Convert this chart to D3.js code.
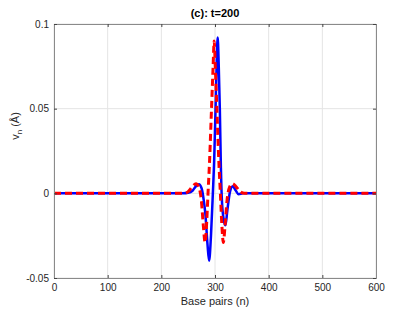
<!DOCTYPE html>
<html>
<head>
<meta charset="utf-8">
<script src="https://cdn.jsdelivr.net/npm/d3@7"></script>
<style>
  body { margin: 0; background: #fff; }
  text { font-family: "Liberation Sans", Arial, sans-serif; }
</style>
</head>
<body>
<svg id="chart" width="415" height="312"></svg>
<script>
// datos
var xTicks = [0, 100, 200, 300, 400, 500, 600];
var yTicks = [-0.05, 0, 0.05, 0.1];
var yTickLabels = ["-0.05", "0", "0.05", "0.1"];

// serie azul (linea continua)
var azulN = [0, 240, 250, 258, 264, 270, 275, 279, 282, 286, 289, 292.5, 296, 298.5, 301, 303, 305, 307, 309, 311, 313, 316.5, 319.5, 323, 328, 333, 338, 344, 352, 600];
var azulV = [0, 0, 0.0003, 0.0015, 0.004, 0.0053, 0.003, -0.004, -0.012, -0.03, -0.0398, -0.025, 0, 0.02, 0.05, 0.075, 0.092, 0.075, 0.05, 0.015, -0.005, -0.016, -0.0188, -0.01, 0.001, 0.0042, 0.002, -0.0005, 0, 0];

// serie roja (linea discontinua)
var rojoN = [0, 242, 250, 258, 264.5, 269.5, 274.5, 278.5, 281.5, 284, 287, 290, 293.5, 296.5, 298.5, 300.5, 303.5, 307, 310, 313, 315.5, 318.5, 322.5, 327.5, 332.5, 339, 347, 355, 600];
var rojoV = [0, 0, 0.001, 0.004, 0.0057, 0.004, -0.004, -0.02, -0.029, -0.02, 0, 0.02, 0.05, 0.075, 0.090, 0.075, 0.05, 0.02, 0, -0.02, -0.029, -0.02, -0.004, 0.004, 0.0057, 0.004, 0.001, 0, 0];

var svg = d3.select("#chart");
var mIzq = 54, mDer = 376, mArriba = 24, mAbajo = 278;

var x = d3.scaleLinear().domain([0, 600]).range([mIzq, mDer]);
var y = d3.scaleLinear().domain([-0.05, 0.1]).range([mAbajo, mArriba]);

// rejilla
svg.append("g").selectAll("line").data(xTicks).enter().append("line")
  .attr("x1", function(d){ return x(d); }).attr("x2", function(d){ return x(d); })
  .attr("y1", mArriba).attr("y2", mAbajo)
  .attr("stroke", "#e4e4e4").attr("stroke-width", 1);
svg.append("g").selectAll("line").data(yTicks).enter().append("line")
  .attr("x1", mIzq).attr("x2", mDer)
  .attr("y1", function(d){ return y(d); }).attr("y2", function(d){ return y(d); })
  .attr("stroke", "#e4e4e4").attr("stroke-width", 1);

// curvas
var linea = d3.line().curve(d3.curveMonotoneX);

var azul = azulN.map(function(n, i){ return [x(n), y(azulV[i])]; });
var rojo = rojoN.map(function(n, i){ return [x(n), y(rojoV[i])]; });

svg.append("path").attr("d", linea(azul))
  .attr("fill", "none").attr("stroke", "#0000ff").attr("stroke-width", 2.5);
svg.append("path").attr("d", linea(rojo))
  .attr("fill", "none").attr("stroke", "#ff0000").attr("stroke-width", 3)
  .attr("stroke-dasharray", "7,4");

// ejes
var ejeX = d3.axisBottom(x).tickValues(xTicks).tickSize(-3).tickPadding(6);
var gx = svg.append("g").attr("transform", "translate(0," + mAbajo + ")").call(ejeX);
var ejeXtop = d3.axisTop(x).tickValues(xTicks).tickSize(-3).tickFormat("");
var gxt = svg.append("g").attr("transform", "translate(0," + mArriba + ")").call(ejeXtop);
var ejeY = d3.axisLeft(y).tickValues(yTicks).tickSize(-3).tickPadding(5)
  .tickFormat(function(d, i){ return yTickLabels[i]; });
var gy = svg.append("g").attr("transform", "translate(" + mIzq + ",0)").call(ejeY);
var ejeYr = d3.axisRight(y).tickValues(yTicks).tickSize(-3).tickFormat("");
var gyr = svg.append("g").attr("transform", "translate(" + mDer + ",0)").call(ejeYr);

[gx, gxt, gy, gyr].forEach(function(g){
  g.select(".domain").attr("stroke", "#8a8a8a").attr("stroke-width", 1);
  g.selectAll(".tick line").attr("stroke", "#444");
  g.selectAll("text").attr("fill", "#262626").attr("font-size", "10px")
    .attr("font-family", "Liberation Sans, Arial, sans-serif");
});

// titulo y etiquetas
svg.append("text")
  .attr("x", (mIzq + mDer) / 2).attr("y", 17)
  .attr("text-anchor", "middle")
  .attr("font-size", "11px").attr("font-weight", "bold").attr("fill", "#000")
  .text("(c): t=200");

svg.append("text")
  .attr("x", (mIzq + mDer) / 2).attr("y", 305)
  .attr("text-anchor", "middle")
  .attr("font-size", "11px").attr("fill", "#262626")
  .text("Base pairs (n)");

var yl = svg.append("text")
  .attr("transform", "translate(19,126) rotate(-90)")
  .attr("text-anchor", "middle")
  .attr("font-size", "11px").attr("fill", "#262626");
yl.append("tspan").text("v");
yl.append("tspan").attr("font-size", "8px").attr("dy", 3).text("n");
yl.append("tspan").attr("dy", -3).text(" (Å)");
</script>
</body>
</html>
